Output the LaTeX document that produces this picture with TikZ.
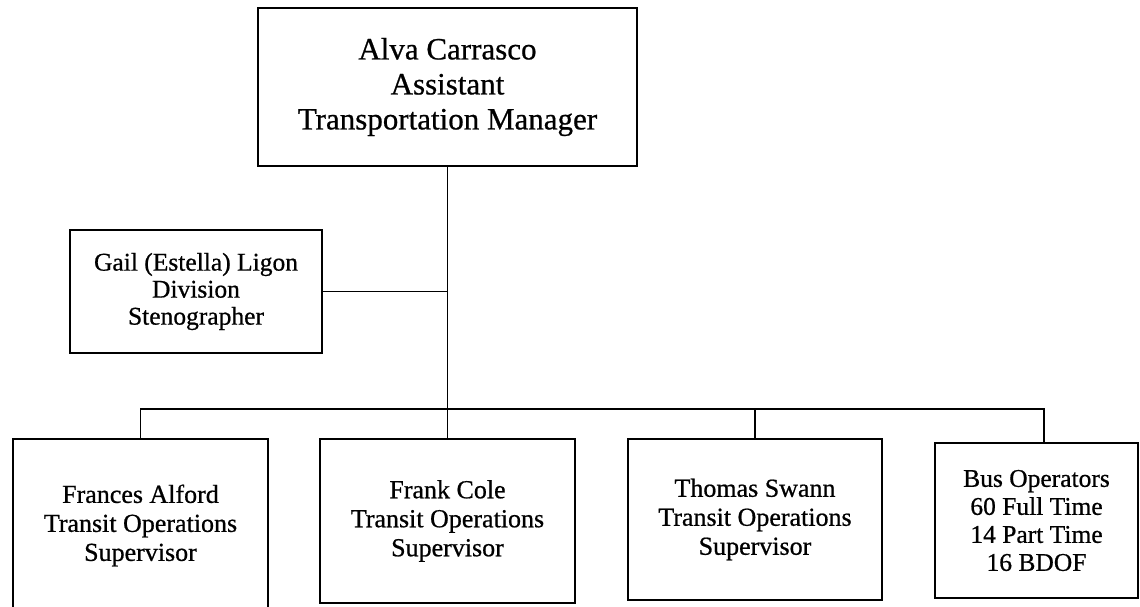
\documentclass[tikz,border=0pt]{standalone}
\usepackage{fontspec}
\setmainfont{Liberation Serif}[FakeBold=0.7]
\begin{document}
\begin{tikzpicture}[x=1pt,y=-1pt,
  box/.style={draw, line width=1.6pt, align=center, inner sep=0pt,
    font=\fontsize{26}{29}\selectfont},
  link/.style={line width=1.6pt}]
\useasboundingbox (0,0) rectangle (1140,606);
\node[box, minimum width=379pt, minimum height=158pt,
  font=\fontsize{31}{35}\selectfont] (top) at (447.5,87)
  {Alva Carrasco\\Assistant\\Transportation Manager};
\node[box, minimum width=252pt, minimum height=123pt,
  font=\fontsize{25.5}{27}\selectfont] (gail) at (196,291.5)
  {Gail (Estella) Ligon\\Division\\Stenographer};
\node[box, minimum width=255pt, minimum height=173pt] (frances) at (140.5,525.5)
  {Frances Alford\\Transit Operations\\Supervisor};
\node[box, minimum width=255pt, minimum height=164pt] (frank) at (447.5,521)
  {Frank Cole\\Transit Operations\\Supervisor};
\node[box, minimum width=254pt, minimum height=161pt] (thomas) at (755,519.5)
  {Thomas Swann\\Transit Operations\\Supervisor};
\node[box, minimum width=203pt, minimum height=155pt,
  font=\fontsize{25.5}{28}\selectfont] (bus) at (1036.5,520.5)
  {Bus Operators\\60 Full Time\\14 Part Time\\16 BDOF};
\coordinate (busy) at (0,409);
\coordinate (busc) at ([xshift=7.5pt]bus.north);
\draw[link] (top.south) -- (frank.north);
\draw[link] (gail.east) -- (gail.east -| top.south);
\draw[link] (frances.north) -- (frances.north |- busy) -- (busc |- busy) -- (busc);
\draw[link] (thomas.north) -- (thomas.north |- busy);
\end{tikzpicture}
\end{document}
